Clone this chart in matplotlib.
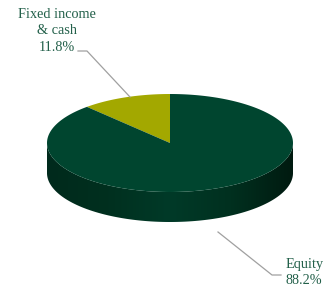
import numpy as np
import matplotlib.pyplot as plt
from matplotlib.patches import Polygon
from matplotlib.colors import LinearSegmentedColormap

labels = ["Fixed income\n& cash", "Equity"]
shares = [11.8, 88.2]
colors = ["#a3a800", "#00452f"]

# pie geometry in pixel units
cx, cy = 170, 143
rx, ry = 123, 49
depth = 30

fig = plt.figure(figsize=(3.3, 2.87), dpi=100)
ax = fig.add_axes([0, 0, 1, 1])
ax.set_xlim(0, 330)
ax.set_ylim(287, 0)
ax.axis("off")


def pt(t):
    return cx + rx * np.cos(t), cy - ry * np.sin(t)


# side wall (front half) with horizontal shading
ts = np.linspace(np.pi, 2 * np.pi, 300)
xs, ys = pt(ts)
side = list(zip(xs, ys)) + list(zip(xs[::-1], ys[::-1] + depth))
side_patch = Polygon(side, closed=True, fc="none", ec="none")
ax.add_patch(side_patch)
cmap = LinearSegmentedColormap.from_list(
    "side", ["#002a1c", "#00301f", "#003a28", "#00301f", "#001a10"])
grad = np.linspace(0, 1, 256)[None, :]
im = ax.imshow(grad, cmap=cmap, extent=[cx - rx, cx + rx, cy + ry + depth + 2, cy - 2],
               aspect="auto", zorder=1)
im.set_clip_path(side_patch)
ax.set_xlim(0, 330)
ax.set_ylim(287, 0)

# top face wedges
start = 90.0
for lab, val, col in zip(labels, shares, colors):
    end = start + val / 100 * 360
    t = np.radians(np.linspace(start, end, 200))
    wx, wy = pt(t)
    verts = [(cx, cy)] + list(zip(wx, wy))
    ax.add_patch(Polygon(verts, closed=True, fc=col, ec="none", zorder=2))
    start = end

txt = "#23604a"
font = ["Liberation Serif", "DejaVu Serif"]


def label(lines, x, y0, ha, step=16.3):
    for i, s in enumerate(lines):
        ax.text(x, y0 + i * step, s, ha=ha, va="baseline",
                fontsize=10.3, color=txt, family=font)


label(labels[0].split("\n") + ["%.1f%%" % shares[0]], 57, 18, "center")
ax.plot([78, 87, 130], [51, 51, 97], color="#a0a0a0", lw=0.9, zorder=3)

label(labels[1].split("\n") + ["%.1f%%" % shares[1]], 286, 268, "left", step=15.5)
ax.plot([218, 272, 281], [232, 275, 275], color="#a0a0a0", lw=0.9, zorder=3)

fig.savefig("out.png", dpi=100)
